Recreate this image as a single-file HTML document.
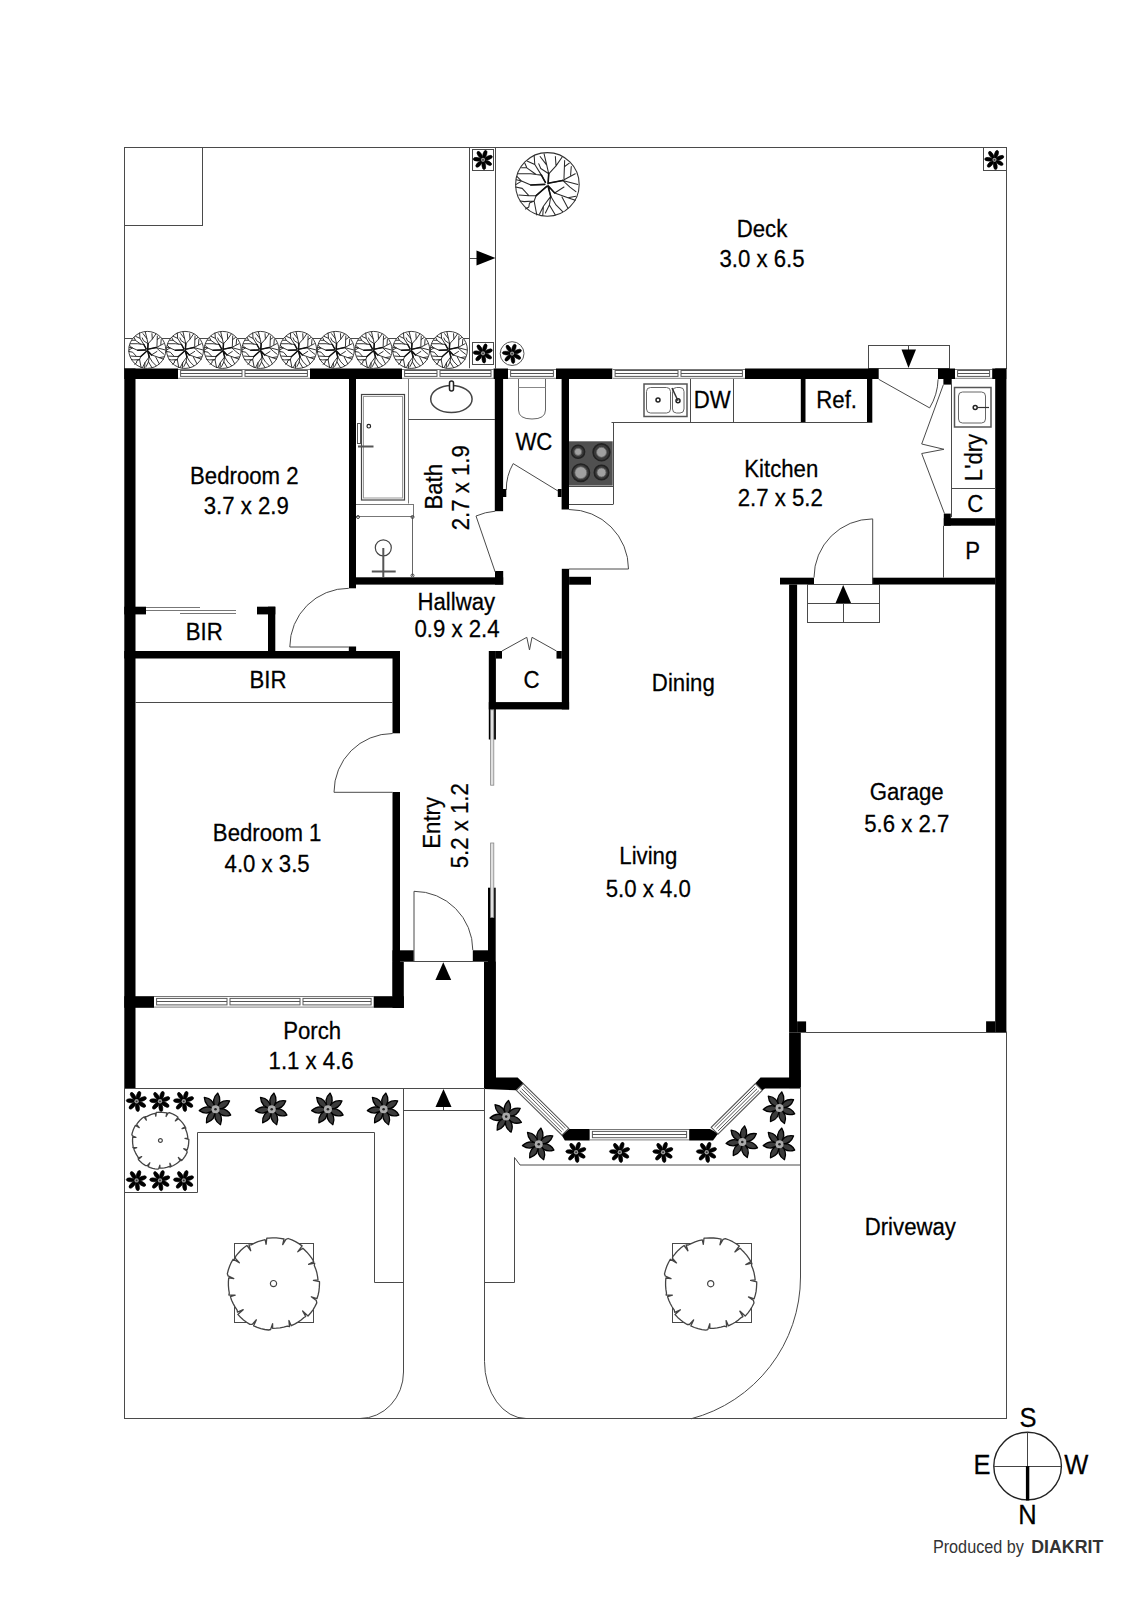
<!DOCTYPE html>
<html><head><meta charset="utf-8"><style>
html,body{margin:0;padding:0;background:#fff;}
svg{display:block;}
text{font-family:"Liberation Sans",sans-serif;}
</style></head><body>
<svg width="1131" height="1600" viewBox="0 0 1131 1600">
<rect width="1131" height="1600" fill="#fff"/>
<line x1="124" y1="147.5" x2="1006.5" y2="147.5" stroke="#4a4a4a" stroke-width="1"/>
<line x1="124.5" y1="147" x2="124.5" y2="369" stroke="#4a4a4a" stroke-width="1"/>
<line x1="1006.5" y1="147" x2="1006.5" y2="369" stroke="#4a4a4a" stroke-width="1"/>
<rect x="124.5" y="147.5" width="78.0" height="78.0" stroke="#4a4a4a" stroke-width="1" fill="none"/>
<line x1="469.5" y1="147.5" x2="469.5" y2="368.5" stroke="#4a4a4a" stroke-width="1"/>
<line x1="495.5" y1="147.5" x2="495.5" y2="368.5" stroke="#4a4a4a" stroke-width="1"/>
<line x1="124.5" y1="338.5" x2="469.5" y2="338.5" stroke="#4a4a4a" stroke-width="1"/>
<line x1="469.5" y1="258.5" x2="477" y2="258.5" stroke="#4a4a4a" stroke-width="1"/>
<path d="M476.5,250.5 L495.5,258 L476.5,265.5 Z" stroke="#4a4a4a" stroke-width="0" fill="#000"/>
<rect x="472.5" y="149.5" width="21.0" height="21.0" stroke="#4a4a4a" stroke-width="1" fill="none"/>
<rect x="472.5" y="342.5" width="21.0" height="22.0" stroke="#4a4a4a" stroke-width="1" fill="none"/>
<rect x="983.5" y="147.5" width="23.0" height="23.0" stroke="#4a4a4a" stroke-width="1" fill="none"/>
<rect x="868.5" y="345.5" width="81.0" height="23.0" stroke="#4a4a4a" stroke-width="1" fill="none"/>
<line x1="908.5" y1="345.5" x2="908.5" y2="350" stroke="#4a4a4a" stroke-width="1"/>
<path d="M901.5,349.5 L916,349.5 L908.5,368 Z" stroke="#4a4a4a" stroke-width="0" fill="#000"/>
<rect x="124.30" y="368.50" width="53.70" height="10.50" fill="#000"/>
<rect x="178" y="368.5" width="132" height="10.5" fill="#fff"/>
<line x1="178" y1="369.5" x2="310" y2="369.5" stroke="#777" stroke-width="1"/>
<line x1="178" y1="378.4" x2="310" y2="378.4" stroke="#999" stroke-width="1.2"/>
<rect x="180.6" y="370.5" width="61.4" height="5.9" fill="none" stroke="#5a5a5a" stroke-width="1"/>
<line x1="180.6" y1="373.5" x2="242.0" y2="373.5" stroke="#555" stroke-width="1"/>
<rect x="245.0" y="370.5" width="62.4" height="5.9" fill="none" stroke="#5a5a5a" stroke-width="1"/>
<line x1="245.0" y1="373.5" x2="307.4" y2="373.5" stroke="#555" stroke-width="1"/>
<rect x="310.00" y="368.50" width="92.00" height="10.50" fill="#000"/>
<rect x="402" y="368.5" width="91.60000000000002" height="10.5" fill="#fff"/>
<line x1="402" y1="369.5" x2="493.6" y2="369.5" stroke="#777" stroke-width="1"/>
<line x1="402" y1="378.4" x2="493.6" y2="378.4" stroke="#999" stroke-width="1.2"/>
<rect x="404.6" y="370.5" width="32.4" height="5.9" fill="none" stroke="#5a5a5a" stroke-width="1"/>
<line x1="404.6" y1="373.5" x2="437.0" y2="373.5" stroke="#555" stroke-width="1"/>
<rect x="440.0" y="370.5" width="51.0" height="5.9" fill="none" stroke="#5a5a5a" stroke-width="1"/>
<line x1="440.0" y1="373.5" x2="491.0" y2="373.5" stroke="#555" stroke-width="1"/>
<rect x="493.60" y="368.50" width="14.40" height="10.50" fill="#000"/>
<rect x="508" y="368.5" width="48" height="10.5" fill="#fff"/>
<line x1="508" y1="369.5" x2="556" y2="369.5" stroke="#777" stroke-width="1"/>
<line x1="508" y1="378.4" x2="556" y2="378.4" stroke="#999" stroke-width="1.2"/>
<rect x="510.6" y="370.5" width="42.8" height="5.9" fill="none" stroke="#5a5a5a" stroke-width="1"/>
<line x1="510.6" y1="373.5" x2="553.4" y2="373.5" stroke="#555" stroke-width="1"/>
<rect x="556.00" y="368.50" width="56.50" height="10.50" fill="#000"/>
<rect x="612.5" y="368.5" width="132.5" height="10.5" fill="#fff"/>
<line x1="612.5" y1="369.5" x2="745" y2="369.5" stroke="#777" stroke-width="1"/>
<line x1="612.5" y1="378.4" x2="745" y2="378.4" stroke="#999" stroke-width="1.2"/>
<rect x="615.1" y="370.5" width="62.9" height="5.9" fill="none" stroke="#5a5a5a" stroke-width="1"/>
<line x1="615.1" y1="373.5" x2="678.0" y2="373.5" stroke="#555" stroke-width="1"/>
<rect x="681.0" y="370.5" width="61.4" height="5.9" fill="none" stroke="#5a5a5a" stroke-width="1"/>
<line x1="681.0" y1="373.5" x2="742.4" y2="373.5" stroke="#555" stroke-width="1"/>
<rect x="745.00" y="368.50" width="133.70" height="10.50" fill="#000"/>
<rect x="938.00" y="368.50" width="17.00" height="10.50" fill="#000"/>
<rect x="943.40" y="379.00" width="7.60" height="5.60" fill="#000"/>
<rect x="955" y="368.5" width="37.200000000000045" height="10.5" fill="#fff"/>
<line x1="955" y1="369.5" x2="992.2" y2="369.5" stroke="#777" stroke-width="1"/>
<line x1="955" y1="378.4" x2="992.2" y2="378.4" stroke="#999" stroke-width="1.2"/>
<rect x="957.6" y="370.5" width="32.0" height="5.9" fill="none" stroke="#5a5a5a" stroke-width="1"/>
<line x1="957.6" y1="373.5" x2="989.6" y2="373.5" stroke="#555" stroke-width="1"/>
<rect x="992.20" y="368.50" width="14.10" height="10.50" fill="#000"/>
<rect x="124.30" y="368.50" width="11.20" height="719.50" fill="#000"/>
<rect x="995.20" y="368.50" width="11.20" height="664.10" fill="#000"/>
<rect x="349.00" y="379.00" width="7.00" height="209.30" fill="#000"/>
<rect x="348.80" y="646.50" width="7.30" height="4.50" fill="#000"/>
<rect x="349.00" y="577.30" width="154.20" height="7.30" fill="#000"/>
<rect x="495.00" y="571.00" width="8.20" height="13.60" fill="#000"/>
<rect x="494.80" y="379.00" width="8.30" height="132.20" fill="#000"/>
<rect x="503.00" y="489.00" width="3.30" height="8.00" fill="#000"/>
<rect x="561.60" y="379.00" width="7.40" height="130.50" fill="#000"/>
<rect x="557.80" y="489.00" width="3.80" height="8.00" fill="#000"/>
<rect x="561.80" y="568.80" width="7.30" height="140.60" fill="#000"/>
<rect x="569.10" y="576.80" width="21.90" height="7.90" fill="#000"/>
<rect x="124.30" y="606.70" width="21.70" height="7.70" fill="#000"/>
<rect x="257.00" y="606.70" width="18.30" height="7.70" fill="#000"/>
<rect x="268.00" y="606.70" width="7.30" height="46.30" fill="#000"/>
<rect x="124.30" y="651.00" width="275.70" height="7.50" fill="#000"/>
<rect x="392.50" y="651.00" width="7.50" height="82.30" fill="#000"/>
<rect x="392.50" y="792.00" width="7.50" height="204.00" fill="#000"/>
<rect x="392.50" y="950.30" width="21.30" height="11.30" fill="#000"/>
<rect x="392.50" y="961.60" width="11.30" height="46.40" fill="#000"/>
<rect x="124.30" y="996.20" width="29.70" height="11.60" fill="#000"/>
<rect x="154" y="996.2" width="219.7" height="11.599999999999909" fill="#fff"/>
<line x1="154" y1="996.5" x2="373.7" y2="996.5" stroke="#777" stroke-width="1"/>
<line x1="154" y1="1007.1999999999999" x2="373.7" y2="1007.1999999999999" stroke="#999" stroke-width="1.2"/>
<rect x="156.6" y="998.4" width="70.4" height="6.5" fill="none" stroke="#5a5a5a" stroke-width="1"/>
<line x1="156.6" y1="1001.5" x2="227.0" y2="1001.5" stroke="#555" stroke-width="1"/>
<rect x="230.0" y="998.4" width="70.0" height="6.5" fill="none" stroke="#5a5a5a" stroke-width="1"/>
<line x1="230.0" y1="1001.5" x2="300.0" y2="1001.5" stroke="#555" stroke-width="1"/>
<rect x="303.0" y="998.4" width="68.1" height="6.5" fill="none" stroke="#5a5a5a" stroke-width="1"/>
<line x1="303.0" y1="1001.5" x2="371.09999999999997" y2="1001.5" stroke="#555" stroke-width="1"/>
<rect x="373.70" y="996.20" width="30.20" height="11.60" fill="#000"/>
<rect x="472.80" y="950.30" width="15.20" height="11.30" fill="#000"/>
<rect x="488.80" y="651.00" width="7.10" height="88.50" fill="#000"/>
<rect x="488.00" y="887.70" width="7.70" height="200.30" fill="#000"/>
<rect x="484.00" y="961.60" width="11.70" height="126.40" fill="#000"/>
<rect x="496.00" y="651.00" width="6.00" height="7.60" fill="#000"/>
<rect x="556.50" y="651.00" width="5.30" height="7.60" fill="#000"/>
<rect x="488.80" y="702.10" width="80.30" height="7.30" fill="#000"/>
<rect x="800.80" y="379.00" width="4.70" height="43.80" fill="#000"/>
<rect x="867.00" y="379.00" width="5.30" height="43.80" fill="#000"/>
<rect x="943.80" y="513.60" width="7.00" height="12.10" fill="#000"/>
<rect x="943.80" y="518.20" width="51.70" height="7.50" fill="#000"/>
<rect x="780.00" y="577.70" width="34.00" height="6.80" fill="#000"/>
<rect x="872.30" y="577.70" width="123.20" height="6.80" fill="#000"/>
<rect x="789.10" y="584.50" width="8.00" height="448.10" fill="#000"/>
<rect x="789.10" y="1032.60" width="11.70" height="55.50" fill="#000"/>
<rect x="797.10" y="1021.40" width="9.00" height="11.20" fill="#000"/>
<rect x="986.10" y="1021.30" width="9.10" height="11.30" fill="#000"/>
<path d="M484.2,1070 L495.9,1070 L495.9,1077.4 L517.6,1077.4 L523.8,1083.6 L516,1090.2 L484.2,1089.1 Z" fill="#000"/>
<path d="M569.3,1128.9 L589.8,1128.9 L589.8,1140.5 L564.9,1140.5 L561.5,1134.9 Z" fill="#000"/>
<rect x="589.8" y="1129.3" width="99.40000000000009" height="11.200000000000045" fill="#fff"/>
<line x1="589.8" y1="1129.5" x2="689.2" y2="1129.5" stroke="#777" stroke-width="1"/>
<line x1="589.8" y1="1139.9" x2="689.2" y2="1139.9" stroke="#999" stroke-width="1.2"/>
<rect x="592.4" y="1131.4" width="94.2" height="6.3" fill="none" stroke="#5a5a5a" stroke-width="1"/>
<line x1="592.4" y1="1134.5" x2="686.6" y2="1134.5" stroke="#555" stroke-width="1"/>
<path d="M689.2,1128.9 L710,1128.9 L718.2,1133.6 L713,1140.5 L689.2,1140.5 Z" fill="#000"/>
<path d="M789.8,1070 L800.7,1070 L800.7,1088.4 L765,1088.4 L762.4,1090.3 L755.1,1083.6 L760.5,1077.5 L789.8,1077.5 Z" fill="#000"/>
<path d="M516.4,1090.3 L562.0,1135.2 L568.8,1128.4 L523.2,1083.5 Z" stroke="#555" stroke-width="1.1" fill="#fff"/>
<path d="M519.7,1090.5 L561.8,1131.9" stroke="#555" stroke-width="1" fill="none"/>
<path d="M521.6,1088.7 L563.6,1130.0" stroke="#555" stroke-width="1" fill="none"/>
<path d="M523.4,1086.8 L565.5,1128.2" stroke="#555" stroke-width="1" fill="none"/>
<path d="M718.0,1134.1 L762.2,1090.4 L755.4,1083.6 L711.2,1127.3 Z" stroke="#555" stroke-width="1.1" fill="#fff"/>
<path d="M718.2,1130.8 L758.9,1090.6" stroke="#555" stroke-width="1" fill="none"/>
<path d="M716.4,1128.9 L757.0,1088.8" stroke="#555" stroke-width="1" fill="none"/>
<path d="M714.5,1127.1 L755.2,1086.9" stroke="#555" stroke-width="1" fill="none"/>
<path d="M878.7,379.3 L929.6,407.9 A58.4,58.4 0 0 0 938.1,379.3" stroke="#4a4a4a" stroke-width="1" fill="none"/>
<path d="M495.2,572 L476,516 A59,59 0 0 1 495.2,511.2" stroke="#4a4a4a" stroke-width="1" fill="none"/>
<path d="M558,491 L513.2,463.6 A51,51 0 0 0 506.3,490" stroke="#4a4a4a" stroke-width="1" fill="none"/>
<path d="M569,509.5 A59.5,59.5 0 0 1 628.5,569 L569,569" stroke="#4a4a4a" stroke-width="1" fill="none"/>
<path d="M348.8,588.3 A58.7,58.7 0 0 0 289.8,647 L348.8,647" stroke="#4a4a4a" stroke-width="1" fill="none"/>
<path d="M392.6,733.5 A58.7,58.7 0 0 0 334,792.3 L392.6,792.3" stroke="#4a4a4a" stroke-width="1" fill="none"/>
<path d="M414,961.6 L414,891.3 A58.8,58.8 0 0 1 472.8,950.1" stroke="#4a4a4a" stroke-width="1" fill="none"/>
<path d="M872.7,584.5 L872.7,518.9 A58.7,58.7 0 0 0 814,577.6" stroke="#4a4a4a" stroke-width="1" fill="none"/>
<path d="M502,651 L526.8,637.3 L529.5,650 L532,637.3 L556.5,651" stroke="#4a4a4a" stroke-width="1" fill="none"/>
<path d="M943.4,384.6 L921.7,444 L944,449.3 L921.7,453.5 L944.5,513.6" stroke="#4a4a4a" stroke-width="1" fill="none"/>
<rect x="490.6" y="709.8" width="3.2" height="75.40000000000009" fill="#e0e0e0" stroke="#888" stroke-width="0.8"/>
<rect x="490.6" y="843" width="3.2" height="74.5" fill="#e0e0e0" stroke="#888" stroke-width="0.8"/>
<line x1="403.8" y1="961.5" x2="484" y2="961.5" stroke="#4a4a4a" stroke-width="1"/>
<path d="M443.3,962.2 L451.2,980.1 L435.4,980.1 Z" stroke="#4a4a4a" stroke-width="0" fill="#000"/>
<rect x="807.5" y="584.5" width="72.0" height="38.0" stroke="#4a4a4a" stroke-width="1" fill="none"/>
<line x1="807.5" y1="603.5" x2="879.5" y2="603.5" stroke="#4a4a4a" stroke-width="1"/>
<line x1="843.5" y1="603.5" x2="843.5" y2="622.5" stroke="#4a4a4a" stroke-width="1"/>
<path d="M843.2,585.1 L851.1,603.1 L835.6,603.1 Z" stroke="#4a4a4a" stroke-width="0" fill="#000"/>
<line x1="806" y1="1032.5" x2="1006" y2="1032.5" stroke="#4a4a4a" stroke-width="1"/>
<line x1="1006.5" y1="1031.5" x2="1006.5" y2="1419" stroke="#4a4a4a" stroke-width="1"/>
<line x1="611.5" y1="422.5" x2="872" y2="422.5" stroke="#4a4a4a" stroke-width="1"/>
<line x1="613.5" y1="423" x2="613.5" y2="504" stroke="#4a4a4a" stroke-width="1"/>
<line x1="569" y1="504.5" x2="613.5" y2="504.5" stroke="#4a4a4a" stroke-width="1"/>
<line x1="569" y1="486.5" x2="613.5" y2="486.5" stroke="#4a4a4a" stroke-width="1"/>
<rect x="569.00" y="441.30" width="43.70" height="44.30" fill="#505050"/>
<circle cx="578.1" cy="451.8" r="6.5" fill="#3a3a3a" stroke="#222" stroke-width="1.6"/>
<circle cx="578.1" cy="451.8" r="3.6" fill="#a0a0a0" stroke="#666" stroke-width="0.8"/>
<circle cx="601.5" cy="452.3" r="8.399999999999999" fill="#3a3a3a" stroke="#222" stroke-width="1.6"/>
<circle cx="601.5" cy="452.3" r="5" fill="#a0a0a0" stroke="#666" stroke-width="0.8"/>
<circle cx="580.8" cy="472.7" r="8.7" fill="#3a3a3a" stroke="#222" stroke-width="1.6"/>
<circle cx="580.8" cy="472.7" r="6" fill="#a0a0a0" stroke="#666" stroke-width="0.8"/>
<circle cx="601.5" cy="472.5" r="7.2" fill="#3a3a3a" stroke="#222" stroke-width="1.6"/>
<circle cx="601.5" cy="472.5" r="4.5" fill="#a0a0a0" stroke="#666" stroke-width="0.8"/>
<line x1="690.5" y1="379" x2="690.5" y2="423" stroke="#4a4a4a" stroke-width="1"/>
<line x1="733.5" y1="379" x2="733.5" y2="423" stroke="#4a4a4a" stroke-width="1"/>
<rect x="644" y="384" width="43" height="32.5" stroke="#555" stroke-width="1.5" fill="none"/>
<rect x="646.5" y="387.5" width="24" height="25.5" rx="4" fill="none" stroke="#666"/>
<rect x="672.5" y="387.5" width="11.5" height="25.5" rx="4" fill="none" stroke="#666"/>
<circle cx="658" cy="400" r="2" fill="none" stroke="#222" stroke-width="1.5"/>
<circle cx="678" cy="400.8" r="2" fill="none" stroke="#222" stroke-width="1.5"/>
<line x1="672" y1="388" x2="678" y2="400.8" stroke="#333" stroke-width="1.5"/>
<line x1="951.5" y1="379" x2="951.5" y2="517.2" stroke="#4a4a4a" stroke-width="1"/>
<line x1="951.5" y1="488.5" x2="995.5" y2="488.5" stroke="#4a4a4a" stroke-width="1"/>
<line x1="943.5" y1="525.7" x2="943.5" y2="577.7" stroke="#4a4a4a" stroke-width="1"/>
<rect x="954.5" y="387.5" width="36.5" height="39.5" stroke="#555" stroke-width="1.5" fill="none"/>
<rect x="958.5" y="392" width="27" height="31" rx="4" fill="none" stroke="#666"/>
<circle cx="975.2" cy="407.5" r="2" fill="none" stroke="#222" stroke-width="1.5"/>
<line x1="977" y1="407.5" x2="989" y2="407.5" stroke="#333" stroke-width="1.2"/>
<rect x="361.5" y="394.5" width="43" height="105.5" fill="none" stroke="#444" stroke-width="1.2"/>
<rect x="363.5" y="396.5" width="39" height="101.5" fill="none" stroke="#999" stroke-width="1"/>
<rect x="357.5" y="423.5" width="3" height="20" fill="none" stroke="#555"/>
<line x1="358" y1="446.5" x2="373.5" y2="446.5" stroke="#555" stroke-width="2"/>
<circle cx="368.8" cy="426.2" r="1.8" fill="none" stroke="#222" stroke-width="1.2"/>
<line x1="408.5" y1="379" x2="408.5" y2="503.5" stroke="#777" stroke-width="1"/>
<line x1="408.5" y1="419.5" x2="495" y2="419.5" stroke="#4a4a4a" stroke-width="1"/>
<ellipse cx="451.4" cy="399" rx="20.7" ry="13.5" fill="none" stroke="#444" stroke-width="1.5"/>
<rect x="449.5" y="381" width="4" height="10" rx="2" fill="#fff" stroke="#222" stroke-width="1.5"/>
<line x1="356" y1="504.5" x2="413.2" y2="504.5" stroke="#777" stroke-width="1"/>
<line x1="356" y1="516.5" x2="413.2" y2="516.5" stroke="#777" stroke-width="1"/>
<line x1="413.5" y1="504" x2="413.5" y2="517" stroke="#777" stroke-width="1"/>
<line x1="412.5" y1="517" x2="412.5" y2="576" stroke="#666" stroke-width="1"/>
<circle cx="358" cy="517" r="1.5" fill="none" stroke="#444"/>
<circle cx="412.5" cy="517" r="1.5" fill="none" stroke="#444"/>
<circle cx="412.5" cy="575.5" r="1.5" fill="none" stroke="#444"/>
<circle cx="383.3" cy="547.8" r="8" fill="none" stroke="#444" stroke-width="1.2"/>
<line x1="383.3" y1="548" x2="383.3" y2="577" stroke="#555" stroke-width="2"/>
<line x1="371.8" y1="571.5" x2="395.7" y2="571.5" stroke="#555" stroke-width="2"/>
<path d="M518.5,379 L518.5,410 Q518.5,419 532,419 Q545.5,419 545.5,410 L545.5,379" stroke="#666" stroke-width="1" fill="none"/>
<line x1="518.5" y1="387.5" x2="545.5" y2="387.5" stroke="#888" stroke-width="1"/>
<line x1="146" y1="607.5" x2="200" y2="607.5" stroke="#777" stroke-width="1"/>
<line x1="146" y1="610.5" x2="200" y2="610.5" stroke="#777" stroke-width="1"/>
<line x1="180" y1="610.5" x2="236" y2="610.5" stroke="#777" stroke-width="1"/>
<line x1="180" y1="613.5" x2="236" y2="613.5" stroke="#777" stroke-width="1"/>
<line x1="135.5" y1="702.5" x2="392.5" y2="702.5" stroke="#4a4a4a" stroke-width="1"/>
<line x1="124" y1="1088.5" x2="484.5" y2="1088.5" stroke="#4a4a4a" stroke-width="1"/>
<line x1="124.5" y1="1088" x2="124.5" y2="1419" stroke="#4a4a4a" stroke-width="1"/>
<line x1="124" y1="1418.5" x2="1006.5" y2="1418.5" stroke="#4a4a4a" stroke-width="1"/>
<path d="M403.5,1088 L403.5,1372 A43.5,46.5 0 0 1 360,1418.5" stroke="#4a4a4a" stroke-width="1" fill="none"/>
<line x1="403.9" y1="1110.5" x2="484.5" y2="1110.5" stroke="#4a4a4a" stroke-width="1"/>
<path d="M443.5,1089 L451.5,1107 L435.5,1107 Z" stroke="#4a4a4a" stroke-width="0" fill="#000"/>
<line x1="443.5" y1="1107" x2="443.5" y2="1110.5" stroke="#4a4a4a" stroke-width="1"/>
<path d="M484.5,1088 L484.5,1361.5 A41.5,57 0 0 0 526,1418.5" stroke="#4a4a4a" stroke-width="1" fill="none"/>
<path d="M124.5,1192.5 L197.5,1192.5 L197.5,1132.5 L374.5,1132.5 L374.5,1282.5 L403.5,1282.5" stroke="#4a4a4a" stroke-width="1" fill="none"/>
<path d="M484.5,1282.5 L514.5,1282.5 L514.5,1157.5 L520,1165 L800.5,1165" stroke="#4a4a4a" stroke-width="1" fill="none"/>
<path d="M800.5,1087 L800.5,1277 A146.5,146.5 0 0 1 691,1418.8" stroke="#4a4a4a" stroke-width="1" fill="none"/>
<rect x="234.5" y="1243.5" width="79.0" height="79.0" stroke="#4a4a4a" stroke-width="1" fill="none"/>
<rect x="672.5" y="1243.5" width="79.0" height="79.0" stroke="#4a4a4a" stroke-width="1" fill="none"/>
<g transform="translate(147.3 349.9) rotate(0) scale(1)"><circle r="18.5" fill="#fff" stroke="#333" stroke-width="0.95"/><path d="M0.39,-0.39 L0.77,-6.17 L-0.39,-11.19 L-1.93,-17.75 M0.77,-6.17 L5.02,-10.80 L4.63,-16.20 M-0.39,-11.19 L-4.24,-16.20 M5.02,-10.80 L8.49,-15.82 M0.77,-6.17 L-3.86,-9.26 L-5.02,-11.96 M-1.16,-1.16 L-3.47,-5.40 L-7.33,-11.57 L-7.72,-16.97 M-3.47,-5.40 L-6.56,-5.79 L-11.96,-9.64 L-13.12,-12.35 M-7.33,-11.57 L-11.57,-13.50 M-6.56,-5.79 L-9.64,-6.17 L-16.97,-6.17 M-11.96,-9.64 L-15.05,-9.64 M-1.54,0.00 L-9.64,0.39 L-15.05,-1.93 L-17.75,-4.63 M-15.05,-1.93 L-18.13,0.00 M-15.05,-1.93 L-18.13,-2.70 M-0.39,1.16 L-6.56,6.56 L-10.80,6.56 L-14.66,2.31 L-18.52,1.54 M-10.80,6.56 L-16.59,6.17 M-6.56,6.56 L-7.72,9.64 L-13.50,10.03 L-15.82,9.64 M-7.72,9.64 L-10.42,10.80 L-10.80,13.12 L-12.73,14.27 M-7.72,9.64 L-6.17,17.75 M0.39,1.16 L1.93,6.94 L-2.31,12.73 L-4.63,17.36 M1.93,6.94 L1.16,11.96 L-1.16,16.59 M1.16,11.96 L4.63,17.75 M1.93,6.94 L5.02,11.96 L8.87,15.82 M-2.31,12.73 L-2.70,18.13 M0.39,0.77 L4.24,5.02 L11.96,7.72 L16.20,9.26 M4.24,5.02 L9.64,1.54 M8.49,7.33 L11.96,13.89 M11.96,7.72 L16.59,6.94 M1.16,-0.77 L8.87,-2.31 L17.75,0.00 M8.87,-2.31 L13.12,1.54 L16.59,4.24 M8.87,-2.31 L16.20,-6.17 M9.64,-3.47 L10.03,-13.89 M13.50,-5.40 L13.89,-10.42 M10.03,-10.42 L12.73,-12.35" fill="none" stroke="#2a2a2a" stroke-width="0.95" stroke-linejoin="round" stroke-linecap="round"/><path d="M0.39,-0.39 L0.77,-6.17 M-1.16,-1.16 L-3.47,-5.40 M-1.54,0.00 L-9.64,0.39 M-0.39,1.16 L-6.56,6.56 M0.39,1.16 L1.93,6.94 M0.39,0.77 L4.24,5.02 M1.16,-0.77 L8.87,-2.31" fill="none" stroke="#111" stroke-width="1.5" stroke-linecap="round"/></g>
<g transform="translate(185.0 349.9) rotate(0) scale(1)"><circle r="18.5" fill="#fff" stroke="#333" stroke-width="0.95"/><path d="M0.39,-0.39 L0.77,-6.17 L-0.39,-11.19 L-1.93,-17.75 M0.77,-6.17 L5.02,-10.80 L4.63,-16.20 M-0.39,-11.19 L-4.24,-16.20 M5.02,-10.80 L8.49,-15.82 M0.77,-6.17 L-3.86,-9.26 L-5.02,-11.96 M-1.16,-1.16 L-3.47,-5.40 L-7.33,-11.57 L-7.72,-16.97 M-3.47,-5.40 L-6.56,-5.79 L-11.96,-9.64 L-13.12,-12.35 M-7.33,-11.57 L-11.57,-13.50 M-6.56,-5.79 L-9.64,-6.17 L-16.97,-6.17 M-11.96,-9.64 L-15.05,-9.64 M-1.54,0.00 L-9.64,0.39 L-15.05,-1.93 L-17.75,-4.63 M-15.05,-1.93 L-18.13,0.00 M-15.05,-1.93 L-18.13,-2.70 M-0.39,1.16 L-6.56,6.56 L-10.80,6.56 L-14.66,2.31 L-18.52,1.54 M-10.80,6.56 L-16.59,6.17 M-6.56,6.56 L-7.72,9.64 L-13.50,10.03 L-15.82,9.64 M-7.72,9.64 L-10.42,10.80 L-10.80,13.12 L-12.73,14.27 M-7.72,9.64 L-6.17,17.75 M0.39,1.16 L1.93,6.94 L-2.31,12.73 L-4.63,17.36 M1.93,6.94 L1.16,11.96 L-1.16,16.59 M1.16,11.96 L4.63,17.75 M1.93,6.94 L5.02,11.96 L8.87,15.82 M-2.31,12.73 L-2.70,18.13 M0.39,0.77 L4.24,5.02 L11.96,7.72 L16.20,9.26 M4.24,5.02 L9.64,1.54 M8.49,7.33 L11.96,13.89 M11.96,7.72 L16.59,6.94 M1.16,-0.77 L8.87,-2.31 L17.75,0.00 M8.87,-2.31 L13.12,1.54 L16.59,4.24 M8.87,-2.31 L16.20,-6.17 M9.64,-3.47 L10.03,-13.89 M13.50,-5.40 L13.89,-10.42 M10.03,-10.42 L12.73,-12.35" fill="none" stroke="#2a2a2a" stroke-width="0.95" stroke-linejoin="round" stroke-linecap="round"/><path d="M0.39,-0.39 L0.77,-6.17 M-1.16,-1.16 L-3.47,-5.40 M-1.54,0.00 L-9.64,0.39 M-0.39,1.16 L-6.56,6.56 M0.39,1.16 L1.93,6.94 M0.39,0.77 L4.24,5.02 M1.16,-0.77 L8.87,-2.31" fill="none" stroke="#111" stroke-width="1.5" stroke-linecap="round"/></g>
<g transform="translate(222.70000000000002 349.9) rotate(0) scale(1)"><circle r="18.5" fill="#fff" stroke="#333" stroke-width="0.95"/><path d="M0.39,-0.39 L0.77,-6.17 L-0.39,-11.19 L-1.93,-17.75 M0.77,-6.17 L5.02,-10.80 L4.63,-16.20 M-0.39,-11.19 L-4.24,-16.20 M5.02,-10.80 L8.49,-15.82 M0.77,-6.17 L-3.86,-9.26 L-5.02,-11.96 M-1.16,-1.16 L-3.47,-5.40 L-7.33,-11.57 L-7.72,-16.97 M-3.47,-5.40 L-6.56,-5.79 L-11.96,-9.64 L-13.12,-12.35 M-7.33,-11.57 L-11.57,-13.50 M-6.56,-5.79 L-9.64,-6.17 L-16.97,-6.17 M-11.96,-9.64 L-15.05,-9.64 M-1.54,0.00 L-9.64,0.39 L-15.05,-1.93 L-17.75,-4.63 M-15.05,-1.93 L-18.13,0.00 M-15.05,-1.93 L-18.13,-2.70 M-0.39,1.16 L-6.56,6.56 L-10.80,6.56 L-14.66,2.31 L-18.52,1.54 M-10.80,6.56 L-16.59,6.17 M-6.56,6.56 L-7.72,9.64 L-13.50,10.03 L-15.82,9.64 M-7.72,9.64 L-10.42,10.80 L-10.80,13.12 L-12.73,14.27 M-7.72,9.64 L-6.17,17.75 M0.39,1.16 L1.93,6.94 L-2.31,12.73 L-4.63,17.36 M1.93,6.94 L1.16,11.96 L-1.16,16.59 M1.16,11.96 L4.63,17.75 M1.93,6.94 L5.02,11.96 L8.87,15.82 M-2.31,12.73 L-2.70,18.13 M0.39,0.77 L4.24,5.02 L11.96,7.72 L16.20,9.26 M4.24,5.02 L9.64,1.54 M8.49,7.33 L11.96,13.89 M11.96,7.72 L16.59,6.94 M1.16,-0.77 L8.87,-2.31 L17.75,0.00 M8.87,-2.31 L13.12,1.54 L16.59,4.24 M8.87,-2.31 L16.20,-6.17 M9.64,-3.47 L10.03,-13.89 M13.50,-5.40 L13.89,-10.42 M10.03,-10.42 L12.73,-12.35" fill="none" stroke="#2a2a2a" stroke-width="0.95" stroke-linejoin="round" stroke-linecap="round"/><path d="M0.39,-0.39 L0.77,-6.17 M-1.16,-1.16 L-3.47,-5.40 M-1.54,0.00 L-9.64,0.39 M-0.39,1.16 L-6.56,6.56 M0.39,1.16 L1.93,6.94 M0.39,0.77 L4.24,5.02 M1.16,-0.77 L8.87,-2.31" fill="none" stroke="#111" stroke-width="1.5" stroke-linecap="round"/></g>
<g transform="translate(260.40000000000003 349.9) rotate(0) scale(1)"><circle r="18.5" fill="#fff" stroke="#333" stroke-width="0.95"/><path d="M0.39,-0.39 L0.77,-6.17 L-0.39,-11.19 L-1.93,-17.75 M0.77,-6.17 L5.02,-10.80 L4.63,-16.20 M-0.39,-11.19 L-4.24,-16.20 M5.02,-10.80 L8.49,-15.82 M0.77,-6.17 L-3.86,-9.26 L-5.02,-11.96 M-1.16,-1.16 L-3.47,-5.40 L-7.33,-11.57 L-7.72,-16.97 M-3.47,-5.40 L-6.56,-5.79 L-11.96,-9.64 L-13.12,-12.35 M-7.33,-11.57 L-11.57,-13.50 M-6.56,-5.79 L-9.64,-6.17 L-16.97,-6.17 M-11.96,-9.64 L-15.05,-9.64 M-1.54,0.00 L-9.64,0.39 L-15.05,-1.93 L-17.75,-4.63 M-15.05,-1.93 L-18.13,0.00 M-15.05,-1.93 L-18.13,-2.70 M-0.39,1.16 L-6.56,6.56 L-10.80,6.56 L-14.66,2.31 L-18.52,1.54 M-10.80,6.56 L-16.59,6.17 M-6.56,6.56 L-7.72,9.64 L-13.50,10.03 L-15.82,9.64 M-7.72,9.64 L-10.42,10.80 L-10.80,13.12 L-12.73,14.27 M-7.72,9.64 L-6.17,17.75 M0.39,1.16 L1.93,6.94 L-2.31,12.73 L-4.63,17.36 M1.93,6.94 L1.16,11.96 L-1.16,16.59 M1.16,11.96 L4.63,17.75 M1.93,6.94 L5.02,11.96 L8.87,15.82 M-2.31,12.73 L-2.70,18.13 M0.39,0.77 L4.24,5.02 L11.96,7.72 L16.20,9.26 M4.24,5.02 L9.64,1.54 M8.49,7.33 L11.96,13.89 M11.96,7.72 L16.59,6.94 M1.16,-0.77 L8.87,-2.31 L17.75,0.00 M8.87,-2.31 L13.12,1.54 L16.59,4.24 M8.87,-2.31 L16.20,-6.17 M9.64,-3.47 L10.03,-13.89 M13.50,-5.40 L13.89,-10.42 M10.03,-10.42 L12.73,-12.35" fill="none" stroke="#2a2a2a" stroke-width="0.95" stroke-linejoin="round" stroke-linecap="round"/><path d="M0.39,-0.39 L0.77,-6.17 M-1.16,-1.16 L-3.47,-5.40 M-1.54,0.00 L-9.64,0.39 M-0.39,1.16 L-6.56,6.56 M0.39,1.16 L1.93,6.94 M0.39,0.77 L4.24,5.02 M1.16,-0.77 L8.87,-2.31" fill="none" stroke="#111" stroke-width="1.5" stroke-linecap="round"/></g>
<g transform="translate(298.1 349.9) rotate(0) scale(1)"><circle r="18.5" fill="#fff" stroke="#333" stroke-width="0.95"/><path d="M0.39,-0.39 L0.77,-6.17 L-0.39,-11.19 L-1.93,-17.75 M0.77,-6.17 L5.02,-10.80 L4.63,-16.20 M-0.39,-11.19 L-4.24,-16.20 M5.02,-10.80 L8.49,-15.82 M0.77,-6.17 L-3.86,-9.26 L-5.02,-11.96 M-1.16,-1.16 L-3.47,-5.40 L-7.33,-11.57 L-7.72,-16.97 M-3.47,-5.40 L-6.56,-5.79 L-11.96,-9.64 L-13.12,-12.35 M-7.33,-11.57 L-11.57,-13.50 M-6.56,-5.79 L-9.64,-6.17 L-16.97,-6.17 M-11.96,-9.64 L-15.05,-9.64 M-1.54,0.00 L-9.64,0.39 L-15.05,-1.93 L-17.75,-4.63 M-15.05,-1.93 L-18.13,0.00 M-15.05,-1.93 L-18.13,-2.70 M-0.39,1.16 L-6.56,6.56 L-10.80,6.56 L-14.66,2.31 L-18.52,1.54 M-10.80,6.56 L-16.59,6.17 M-6.56,6.56 L-7.72,9.64 L-13.50,10.03 L-15.82,9.64 M-7.72,9.64 L-10.42,10.80 L-10.80,13.12 L-12.73,14.27 M-7.72,9.64 L-6.17,17.75 M0.39,1.16 L1.93,6.94 L-2.31,12.73 L-4.63,17.36 M1.93,6.94 L1.16,11.96 L-1.16,16.59 M1.16,11.96 L4.63,17.75 M1.93,6.94 L5.02,11.96 L8.87,15.82 M-2.31,12.73 L-2.70,18.13 M0.39,0.77 L4.24,5.02 L11.96,7.72 L16.20,9.26 M4.24,5.02 L9.64,1.54 M8.49,7.33 L11.96,13.89 M11.96,7.72 L16.59,6.94 M1.16,-0.77 L8.87,-2.31 L17.75,0.00 M8.87,-2.31 L13.12,1.54 L16.59,4.24 M8.87,-2.31 L16.20,-6.17 M9.64,-3.47 L10.03,-13.89 M13.50,-5.40 L13.89,-10.42 M10.03,-10.42 L12.73,-12.35" fill="none" stroke="#2a2a2a" stroke-width="0.95" stroke-linejoin="round" stroke-linecap="round"/><path d="M0.39,-0.39 L0.77,-6.17 M-1.16,-1.16 L-3.47,-5.40 M-1.54,0.00 L-9.64,0.39 M-0.39,1.16 L-6.56,6.56 M0.39,1.16 L1.93,6.94 M0.39,0.77 L4.24,5.02 M1.16,-0.77 L8.87,-2.31" fill="none" stroke="#111" stroke-width="1.5" stroke-linecap="round"/></g>
<g transform="translate(335.8 349.9) rotate(0) scale(1)"><circle r="18.5" fill="#fff" stroke="#333" stroke-width="0.95"/><path d="M0.39,-0.39 L0.77,-6.17 L-0.39,-11.19 L-1.93,-17.75 M0.77,-6.17 L5.02,-10.80 L4.63,-16.20 M-0.39,-11.19 L-4.24,-16.20 M5.02,-10.80 L8.49,-15.82 M0.77,-6.17 L-3.86,-9.26 L-5.02,-11.96 M-1.16,-1.16 L-3.47,-5.40 L-7.33,-11.57 L-7.72,-16.97 M-3.47,-5.40 L-6.56,-5.79 L-11.96,-9.64 L-13.12,-12.35 M-7.33,-11.57 L-11.57,-13.50 M-6.56,-5.79 L-9.64,-6.17 L-16.97,-6.17 M-11.96,-9.64 L-15.05,-9.64 M-1.54,0.00 L-9.64,0.39 L-15.05,-1.93 L-17.75,-4.63 M-15.05,-1.93 L-18.13,0.00 M-15.05,-1.93 L-18.13,-2.70 M-0.39,1.16 L-6.56,6.56 L-10.80,6.56 L-14.66,2.31 L-18.52,1.54 M-10.80,6.56 L-16.59,6.17 M-6.56,6.56 L-7.72,9.64 L-13.50,10.03 L-15.82,9.64 M-7.72,9.64 L-10.42,10.80 L-10.80,13.12 L-12.73,14.27 M-7.72,9.64 L-6.17,17.75 M0.39,1.16 L1.93,6.94 L-2.31,12.73 L-4.63,17.36 M1.93,6.94 L1.16,11.96 L-1.16,16.59 M1.16,11.96 L4.63,17.75 M1.93,6.94 L5.02,11.96 L8.87,15.82 M-2.31,12.73 L-2.70,18.13 M0.39,0.77 L4.24,5.02 L11.96,7.72 L16.20,9.26 M4.24,5.02 L9.64,1.54 M8.49,7.33 L11.96,13.89 M11.96,7.72 L16.59,6.94 M1.16,-0.77 L8.87,-2.31 L17.75,0.00 M8.87,-2.31 L13.12,1.54 L16.59,4.24 M8.87,-2.31 L16.20,-6.17 M9.64,-3.47 L10.03,-13.89 M13.50,-5.40 L13.89,-10.42 M10.03,-10.42 L12.73,-12.35" fill="none" stroke="#2a2a2a" stroke-width="0.95" stroke-linejoin="round" stroke-linecap="round"/><path d="M0.39,-0.39 L0.77,-6.17 M-1.16,-1.16 L-3.47,-5.40 M-1.54,0.00 L-9.64,0.39 M-0.39,1.16 L-6.56,6.56 M0.39,1.16 L1.93,6.94 M0.39,0.77 L4.24,5.02 M1.16,-0.77 L8.87,-2.31" fill="none" stroke="#111" stroke-width="1.5" stroke-linecap="round"/></g>
<g transform="translate(373.5 349.9) rotate(0) scale(1)"><circle r="18.5" fill="#fff" stroke="#333" stroke-width="0.95"/><path d="M0.39,-0.39 L0.77,-6.17 L-0.39,-11.19 L-1.93,-17.75 M0.77,-6.17 L5.02,-10.80 L4.63,-16.20 M-0.39,-11.19 L-4.24,-16.20 M5.02,-10.80 L8.49,-15.82 M0.77,-6.17 L-3.86,-9.26 L-5.02,-11.96 M-1.16,-1.16 L-3.47,-5.40 L-7.33,-11.57 L-7.72,-16.97 M-3.47,-5.40 L-6.56,-5.79 L-11.96,-9.64 L-13.12,-12.35 M-7.33,-11.57 L-11.57,-13.50 M-6.56,-5.79 L-9.64,-6.17 L-16.97,-6.17 M-11.96,-9.64 L-15.05,-9.64 M-1.54,0.00 L-9.64,0.39 L-15.05,-1.93 L-17.75,-4.63 M-15.05,-1.93 L-18.13,0.00 M-15.05,-1.93 L-18.13,-2.70 M-0.39,1.16 L-6.56,6.56 L-10.80,6.56 L-14.66,2.31 L-18.52,1.54 M-10.80,6.56 L-16.59,6.17 M-6.56,6.56 L-7.72,9.64 L-13.50,10.03 L-15.82,9.64 M-7.72,9.64 L-10.42,10.80 L-10.80,13.12 L-12.73,14.27 M-7.72,9.64 L-6.17,17.75 M0.39,1.16 L1.93,6.94 L-2.31,12.73 L-4.63,17.36 M1.93,6.94 L1.16,11.96 L-1.16,16.59 M1.16,11.96 L4.63,17.75 M1.93,6.94 L5.02,11.96 L8.87,15.82 M-2.31,12.73 L-2.70,18.13 M0.39,0.77 L4.24,5.02 L11.96,7.72 L16.20,9.26 M4.24,5.02 L9.64,1.54 M8.49,7.33 L11.96,13.89 M11.96,7.72 L16.59,6.94 M1.16,-0.77 L8.87,-2.31 L17.75,0.00 M8.87,-2.31 L13.12,1.54 L16.59,4.24 M8.87,-2.31 L16.20,-6.17 M9.64,-3.47 L10.03,-13.89 M13.50,-5.40 L13.89,-10.42 M10.03,-10.42 L12.73,-12.35" fill="none" stroke="#2a2a2a" stroke-width="0.95" stroke-linejoin="round" stroke-linecap="round"/><path d="M0.39,-0.39 L0.77,-6.17 M-1.16,-1.16 L-3.47,-5.40 M-1.54,0.00 L-9.64,0.39 M-0.39,1.16 L-6.56,6.56 M0.39,1.16 L1.93,6.94 M0.39,0.77 L4.24,5.02 M1.16,-0.77 L8.87,-2.31" fill="none" stroke="#111" stroke-width="1.5" stroke-linecap="round"/></g>
<g transform="translate(411.20000000000005 349.9) rotate(0) scale(1)"><circle r="18.5" fill="#fff" stroke="#333" stroke-width="0.95"/><path d="M0.39,-0.39 L0.77,-6.17 L-0.39,-11.19 L-1.93,-17.75 M0.77,-6.17 L5.02,-10.80 L4.63,-16.20 M-0.39,-11.19 L-4.24,-16.20 M5.02,-10.80 L8.49,-15.82 M0.77,-6.17 L-3.86,-9.26 L-5.02,-11.96 M-1.16,-1.16 L-3.47,-5.40 L-7.33,-11.57 L-7.72,-16.97 M-3.47,-5.40 L-6.56,-5.79 L-11.96,-9.64 L-13.12,-12.35 M-7.33,-11.57 L-11.57,-13.50 M-6.56,-5.79 L-9.64,-6.17 L-16.97,-6.17 M-11.96,-9.64 L-15.05,-9.64 M-1.54,0.00 L-9.64,0.39 L-15.05,-1.93 L-17.75,-4.63 M-15.05,-1.93 L-18.13,0.00 M-15.05,-1.93 L-18.13,-2.70 M-0.39,1.16 L-6.56,6.56 L-10.80,6.56 L-14.66,2.31 L-18.52,1.54 M-10.80,6.56 L-16.59,6.17 M-6.56,6.56 L-7.72,9.64 L-13.50,10.03 L-15.82,9.64 M-7.72,9.64 L-10.42,10.80 L-10.80,13.12 L-12.73,14.27 M-7.72,9.64 L-6.17,17.75 M0.39,1.16 L1.93,6.94 L-2.31,12.73 L-4.63,17.36 M1.93,6.94 L1.16,11.96 L-1.16,16.59 M1.16,11.96 L4.63,17.75 M1.93,6.94 L5.02,11.96 L8.87,15.82 M-2.31,12.73 L-2.70,18.13 M0.39,0.77 L4.24,5.02 L11.96,7.72 L16.20,9.26 M4.24,5.02 L9.64,1.54 M8.49,7.33 L11.96,13.89 M11.96,7.72 L16.59,6.94 M1.16,-0.77 L8.87,-2.31 L17.75,0.00 M8.87,-2.31 L13.12,1.54 L16.59,4.24 M8.87,-2.31 L16.20,-6.17 M9.64,-3.47 L10.03,-13.89 M13.50,-5.40 L13.89,-10.42 M10.03,-10.42 L12.73,-12.35" fill="none" stroke="#2a2a2a" stroke-width="0.95" stroke-linejoin="round" stroke-linecap="round"/><path d="M0.39,-0.39 L0.77,-6.17 M-1.16,-1.16 L-3.47,-5.40 M-1.54,0.00 L-9.64,0.39 M-0.39,1.16 L-6.56,6.56 M0.39,1.16 L1.93,6.94 M0.39,0.77 L4.24,5.02 M1.16,-0.77 L8.87,-2.31" fill="none" stroke="#111" stroke-width="1.5" stroke-linecap="round"/></g>
<g transform="translate(448.90000000000003 349.9) rotate(0) scale(1)"><circle r="18.5" fill="#fff" stroke="#333" stroke-width="0.95"/><path d="M0.39,-0.39 L0.77,-6.17 L-0.39,-11.19 L-1.93,-17.75 M0.77,-6.17 L5.02,-10.80 L4.63,-16.20 M-0.39,-11.19 L-4.24,-16.20 M5.02,-10.80 L8.49,-15.82 M0.77,-6.17 L-3.86,-9.26 L-5.02,-11.96 M-1.16,-1.16 L-3.47,-5.40 L-7.33,-11.57 L-7.72,-16.97 M-3.47,-5.40 L-6.56,-5.79 L-11.96,-9.64 L-13.12,-12.35 M-7.33,-11.57 L-11.57,-13.50 M-6.56,-5.79 L-9.64,-6.17 L-16.97,-6.17 M-11.96,-9.64 L-15.05,-9.64 M-1.54,0.00 L-9.64,0.39 L-15.05,-1.93 L-17.75,-4.63 M-15.05,-1.93 L-18.13,0.00 M-15.05,-1.93 L-18.13,-2.70 M-0.39,1.16 L-6.56,6.56 L-10.80,6.56 L-14.66,2.31 L-18.52,1.54 M-10.80,6.56 L-16.59,6.17 M-6.56,6.56 L-7.72,9.64 L-13.50,10.03 L-15.82,9.64 M-7.72,9.64 L-10.42,10.80 L-10.80,13.12 L-12.73,14.27 M-7.72,9.64 L-6.17,17.75 M0.39,1.16 L1.93,6.94 L-2.31,12.73 L-4.63,17.36 M1.93,6.94 L1.16,11.96 L-1.16,16.59 M1.16,11.96 L4.63,17.75 M1.93,6.94 L5.02,11.96 L8.87,15.82 M-2.31,12.73 L-2.70,18.13 M0.39,0.77 L4.24,5.02 L11.96,7.72 L16.20,9.26 M4.24,5.02 L9.64,1.54 M8.49,7.33 L11.96,13.89 M11.96,7.72 L16.59,6.94 M1.16,-0.77 L8.87,-2.31 L17.75,0.00 M8.87,-2.31 L13.12,1.54 L16.59,4.24 M8.87,-2.31 L16.20,-6.17 M9.64,-3.47 L10.03,-13.89 M13.50,-5.40 L13.89,-10.42 M10.03,-10.42 L12.73,-12.35" fill="none" stroke="#2a2a2a" stroke-width="0.95" stroke-linejoin="round" stroke-linecap="round"/><path d="M0.39,-0.39 L0.77,-6.17 M-1.16,-1.16 L-3.47,-5.40 M-1.54,0.00 L-9.64,0.39 M-0.39,1.16 L-6.56,6.56 M0.39,1.16 L1.93,6.94 M0.39,0.77 L4.24,5.02 M1.16,-0.77 L8.87,-2.31" fill="none" stroke="#111" stroke-width="1.5" stroke-linecap="round"/></g>
<g transform="translate(547.4 184.4) rotate(0) scale(1)"><circle r="31.8" fill="#fff" stroke="#333" stroke-width="1.05"/><path d="M0.66,-0.66 L1.33,-10.61 L-0.66,-19.23 L-3.32,-30.50 M1.33,-10.61 L8.62,-18.57 L7.96,-27.85 M-0.66,-19.23 L-7.29,-27.85 M8.62,-18.57 L14.59,-27.19 M1.33,-10.61 L-6.63,-15.92 L-8.62,-20.56 M-1.99,-1.99 L-5.97,-9.28 L-12.60,-19.89 L-13.26,-29.18 M-5.97,-9.28 L-11.27,-9.95 L-20.56,-16.58 L-22.55,-21.22 M-12.60,-19.89 L-19.89,-23.21 M-11.27,-9.95 L-16.58,-10.61 L-29.18,-10.61 M-20.56,-16.58 L-25.86,-16.58 M-2.65,0.00 L-16.58,0.66 L-25.86,-3.32 L-30.50,-7.96 M-25.86,-3.32 L-31.17,0.00 M-25.86,-3.32 L-31.17,-4.64 M-0.66,1.99 L-11.27,11.27 L-18.57,11.27 L-25.20,3.98 L-31.83,2.65 M-18.57,11.27 L-28.51,10.61 M-11.27,11.27 L-13.26,16.58 L-23.21,17.24 L-27.19,16.58 M-13.26,16.58 L-17.90,18.57 L-18.57,22.55 L-21.88,24.54 M-13.26,16.58 L-10.61,30.50 M0.66,1.99 L3.32,11.94 L-3.98,21.88 L-7.96,29.84 M3.32,11.94 L1.99,20.56 L-1.99,28.51 M1.99,20.56 L7.96,30.50 M3.32,11.94 L8.62,20.56 L15.25,27.19 M-3.98,21.88 L-4.64,31.17 M0.66,1.33 L7.29,8.62 L20.56,13.26 L27.85,15.92 M7.29,8.62 L16.58,2.65 M14.59,12.60 L20.56,23.87 M20.56,13.26 L28.51,11.94 M1.99,-1.33 L15.25,-3.98 L30.50,0.00 M15.25,-3.98 L22.55,2.65 L28.51,7.29 M15.25,-3.98 L27.85,-10.61 M16.58,-5.97 L17.24,-23.87 M23.21,-9.28 L23.87,-17.90 M17.24,-17.90 L21.88,-21.22" fill="none" stroke="#2a2a2a" stroke-width="1.05" stroke-linejoin="round" stroke-linecap="round"/><path d="M0.66,-0.66 L1.33,-10.61 M-1.99,-1.99 L-5.97,-9.28 M-2.65,0.00 L-16.58,0.66 M-0.66,1.99 L-11.27,11.27 M0.66,1.99 L3.32,11.94 M0.66,1.33 L7.29,8.62 M1.99,-1.33 L15.25,-3.98" fill="none" stroke="#111" stroke-width="1.6" stroke-linecap="round"/></g>
<circle cx="512.1" cy="353.6" r="11.9" fill="#fff" stroke="#555" stroke-width="1"/>
<g transform="translate(483 159.8) rotate(0) scale(0.95)"><g fill="#000" stroke="#000" stroke-width="0.6"><ellipse cx="6.30" cy="0" rx="4.10" ry="1.95" transform="rotate(-72.0)"/><ellipse cx="6.30" cy="0" rx="4.10" ry="1.95" transform="rotate(-20.6)"/><ellipse cx="6.30" cy="0" rx="4.10" ry="1.95" transform="rotate(30.9)"/><ellipse cx="6.30" cy="0" rx="4.10" ry="1.95" transform="rotate(82.3)"/><ellipse cx="6.30" cy="0" rx="4.10" ry="1.95" transform="rotate(133.7)"/><ellipse cx="6.30" cy="0" rx="4.10" ry="1.95" transform="rotate(185.1)"/><ellipse cx="6.30" cy="0" rx="4.10" ry="1.95" transform="rotate(236.6)"/></g><circle r="3.2" fill="#000"/><circle r="2.2" fill="#999"/><circle r="0.9" fill="#333"/></g>
<g transform="translate(483 353.3) rotate(0) scale(0.95)"><g fill="#000" stroke="#000" stroke-width="0.6"><ellipse cx="6.30" cy="0" rx="4.10" ry="1.95" transform="rotate(-72.0)"/><ellipse cx="6.30" cy="0" rx="4.10" ry="1.95" transform="rotate(-20.6)"/><ellipse cx="6.30" cy="0" rx="4.10" ry="1.95" transform="rotate(30.9)"/><ellipse cx="6.30" cy="0" rx="4.10" ry="1.95" transform="rotate(82.3)"/><ellipse cx="6.30" cy="0" rx="4.10" ry="1.95" transform="rotate(133.7)"/><ellipse cx="6.30" cy="0" rx="4.10" ry="1.95" transform="rotate(185.1)"/><ellipse cx="6.30" cy="0" rx="4.10" ry="1.95" transform="rotate(236.6)"/></g><circle r="3.2" fill="#000"/><circle r="2.2" fill="#999"/><circle r="0.9" fill="#333"/></g>
<g transform="translate(994.5 159.8) rotate(0) scale(0.95)"><g fill="#000" stroke="#000" stroke-width="0.6"><ellipse cx="6.30" cy="0" rx="4.10" ry="1.95" transform="rotate(-72.0)"/><ellipse cx="6.30" cy="0" rx="4.10" ry="1.95" transform="rotate(-20.6)"/><ellipse cx="6.30" cy="0" rx="4.10" ry="1.95" transform="rotate(30.9)"/><ellipse cx="6.30" cy="0" rx="4.10" ry="1.95" transform="rotate(82.3)"/><ellipse cx="6.30" cy="0" rx="4.10" ry="1.95" transform="rotate(133.7)"/><ellipse cx="6.30" cy="0" rx="4.10" ry="1.95" transform="rotate(185.1)"/><ellipse cx="6.30" cy="0" rx="4.10" ry="1.95" transform="rotate(236.6)"/></g><circle r="3.2" fill="#000"/><circle r="2.2" fill="#999"/><circle r="0.9" fill="#333"/></g>
<g transform="translate(512.1 353.6) rotate(0) scale(0.95)"><g fill="#000" stroke="#000" stroke-width="0.6"><ellipse cx="6.30" cy="0" rx="4.10" ry="1.95" transform="rotate(-72.0)"/><ellipse cx="6.30" cy="0" rx="4.10" ry="1.95" transform="rotate(-20.6)"/><ellipse cx="6.30" cy="0" rx="4.10" ry="1.95" transform="rotate(30.9)"/><ellipse cx="6.30" cy="0" rx="4.10" ry="1.95" transform="rotate(82.3)"/><ellipse cx="6.30" cy="0" rx="4.10" ry="1.95" transform="rotate(133.7)"/><ellipse cx="6.30" cy="0" rx="4.10" ry="1.95" transform="rotate(185.1)"/><ellipse cx="6.30" cy="0" rx="4.10" ry="1.95" transform="rotate(236.6)"/></g><circle r="3.2" fill="#000"/><circle r="2.2" fill="#999"/><circle r="0.9" fill="#333"/></g>
<g transform="translate(136.6 1101.3) rotate(0) scale(1)"><g fill="#000" stroke="#000" stroke-width="0.6"><ellipse cx="6.30" cy="0" rx="4.10" ry="1.95" transform="rotate(-72.0)"/><ellipse cx="6.30" cy="0" rx="4.10" ry="1.95" transform="rotate(-20.6)"/><ellipse cx="6.30" cy="0" rx="4.10" ry="1.95" transform="rotate(30.9)"/><ellipse cx="6.30" cy="0" rx="4.10" ry="1.95" transform="rotate(82.3)"/><ellipse cx="6.30" cy="0" rx="4.10" ry="1.95" transform="rotate(133.7)"/><ellipse cx="6.30" cy="0" rx="4.10" ry="1.95" transform="rotate(185.1)"/><ellipse cx="6.30" cy="0" rx="4.10" ry="1.95" transform="rotate(236.6)"/></g><circle r="3.2" fill="#000"/><circle r="2.2" fill="#999"/><circle r="0.9" fill="#333"/></g>
<g transform="translate(160 1101.3) rotate(0) scale(1)"><g fill="#000" stroke="#000" stroke-width="0.6"><ellipse cx="6.30" cy="0" rx="4.10" ry="1.95" transform="rotate(-72.0)"/><ellipse cx="6.30" cy="0" rx="4.10" ry="1.95" transform="rotate(-20.6)"/><ellipse cx="6.30" cy="0" rx="4.10" ry="1.95" transform="rotate(30.9)"/><ellipse cx="6.30" cy="0" rx="4.10" ry="1.95" transform="rotate(82.3)"/><ellipse cx="6.30" cy="0" rx="4.10" ry="1.95" transform="rotate(133.7)"/><ellipse cx="6.30" cy="0" rx="4.10" ry="1.95" transform="rotate(185.1)"/><ellipse cx="6.30" cy="0" rx="4.10" ry="1.95" transform="rotate(236.6)"/></g><circle r="3.2" fill="#000"/><circle r="2.2" fill="#999"/><circle r="0.9" fill="#333"/></g>
<g transform="translate(183.8 1101.3) rotate(0) scale(1)"><g fill="#000" stroke="#000" stroke-width="0.6"><ellipse cx="6.30" cy="0" rx="4.10" ry="1.95" transform="rotate(-72.0)"/><ellipse cx="6.30" cy="0" rx="4.10" ry="1.95" transform="rotate(-20.6)"/><ellipse cx="6.30" cy="0" rx="4.10" ry="1.95" transform="rotate(30.9)"/><ellipse cx="6.30" cy="0" rx="4.10" ry="1.95" transform="rotate(82.3)"/><ellipse cx="6.30" cy="0" rx="4.10" ry="1.95" transform="rotate(133.7)"/><ellipse cx="6.30" cy="0" rx="4.10" ry="1.95" transform="rotate(185.1)"/><ellipse cx="6.30" cy="0" rx="4.10" ry="1.95" transform="rotate(236.6)"/></g><circle r="3.2" fill="#000"/><circle r="2.2" fill="#999"/><circle r="0.9" fill="#333"/></g>
<g transform="translate(136.6 1180.4) rotate(0) scale(1)"><g fill="#000" stroke="#000" stroke-width="0.6"><ellipse cx="6.30" cy="0" rx="4.10" ry="1.95" transform="rotate(-72.0)"/><ellipse cx="6.30" cy="0" rx="4.10" ry="1.95" transform="rotate(-20.6)"/><ellipse cx="6.30" cy="0" rx="4.10" ry="1.95" transform="rotate(30.9)"/><ellipse cx="6.30" cy="0" rx="4.10" ry="1.95" transform="rotate(82.3)"/><ellipse cx="6.30" cy="0" rx="4.10" ry="1.95" transform="rotate(133.7)"/><ellipse cx="6.30" cy="0" rx="4.10" ry="1.95" transform="rotate(185.1)"/><ellipse cx="6.30" cy="0" rx="4.10" ry="1.95" transform="rotate(236.6)"/></g><circle r="3.2" fill="#000"/><circle r="2.2" fill="#999"/><circle r="0.9" fill="#333"/></g>
<g transform="translate(160 1180.4) rotate(0) scale(1)"><g fill="#000" stroke="#000" stroke-width="0.6"><ellipse cx="6.30" cy="0" rx="4.10" ry="1.95" transform="rotate(-72.0)"/><ellipse cx="6.30" cy="0" rx="4.10" ry="1.95" transform="rotate(-20.6)"/><ellipse cx="6.30" cy="0" rx="4.10" ry="1.95" transform="rotate(30.9)"/><ellipse cx="6.30" cy="0" rx="4.10" ry="1.95" transform="rotate(82.3)"/><ellipse cx="6.30" cy="0" rx="4.10" ry="1.95" transform="rotate(133.7)"/><ellipse cx="6.30" cy="0" rx="4.10" ry="1.95" transform="rotate(185.1)"/><ellipse cx="6.30" cy="0" rx="4.10" ry="1.95" transform="rotate(236.6)"/></g><circle r="3.2" fill="#000"/><circle r="2.2" fill="#999"/><circle r="0.9" fill="#333"/></g>
<g transform="translate(183.8 1180.4) rotate(0) scale(1)"><g fill="#000" stroke="#000" stroke-width="0.6"><ellipse cx="6.30" cy="0" rx="4.10" ry="1.95" transform="rotate(-72.0)"/><ellipse cx="6.30" cy="0" rx="4.10" ry="1.95" transform="rotate(-20.6)"/><ellipse cx="6.30" cy="0" rx="4.10" ry="1.95" transform="rotate(30.9)"/><ellipse cx="6.30" cy="0" rx="4.10" ry="1.95" transform="rotate(82.3)"/><ellipse cx="6.30" cy="0" rx="4.10" ry="1.95" transform="rotate(133.7)"/><ellipse cx="6.30" cy="0" rx="4.10" ry="1.95" transform="rotate(185.1)"/><ellipse cx="6.30" cy="0" rx="4.10" ry="1.95" transform="rotate(236.6)"/></g><circle r="3.2" fill="#000"/><circle r="2.2" fill="#999"/><circle r="0.9" fill="#333"/></g>
<g transform="translate(576.1 1152.2) rotate(0) scale(1)"><g fill="#000" stroke="#000" stroke-width="0.6"><ellipse cx="6.30" cy="0" rx="4.10" ry="1.95" transform="rotate(-72.0)"/><ellipse cx="6.30" cy="0" rx="4.10" ry="1.95" transform="rotate(-20.6)"/><ellipse cx="6.30" cy="0" rx="4.10" ry="1.95" transform="rotate(30.9)"/><ellipse cx="6.30" cy="0" rx="4.10" ry="1.95" transform="rotate(82.3)"/><ellipse cx="6.30" cy="0" rx="4.10" ry="1.95" transform="rotate(133.7)"/><ellipse cx="6.30" cy="0" rx="4.10" ry="1.95" transform="rotate(185.1)"/><ellipse cx="6.30" cy="0" rx="4.10" ry="1.95" transform="rotate(236.6)"/></g><circle r="3.2" fill="#000"/><circle r="2.2" fill="#999"/><circle r="0.9" fill="#333"/></g>
<g transform="translate(619.8 1152.2) rotate(0) scale(1)"><g fill="#000" stroke="#000" stroke-width="0.6"><ellipse cx="6.30" cy="0" rx="4.10" ry="1.95" transform="rotate(-72.0)"/><ellipse cx="6.30" cy="0" rx="4.10" ry="1.95" transform="rotate(-20.6)"/><ellipse cx="6.30" cy="0" rx="4.10" ry="1.95" transform="rotate(30.9)"/><ellipse cx="6.30" cy="0" rx="4.10" ry="1.95" transform="rotate(82.3)"/><ellipse cx="6.30" cy="0" rx="4.10" ry="1.95" transform="rotate(133.7)"/><ellipse cx="6.30" cy="0" rx="4.10" ry="1.95" transform="rotate(185.1)"/><ellipse cx="6.30" cy="0" rx="4.10" ry="1.95" transform="rotate(236.6)"/></g><circle r="3.2" fill="#000"/><circle r="2.2" fill="#999"/><circle r="0.9" fill="#333"/></g>
<g transform="translate(663.1 1152.2) rotate(0) scale(1)"><g fill="#000" stroke="#000" stroke-width="0.6"><ellipse cx="6.30" cy="0" rx="4.10" ry="1.95" transform="rotate(-72.0)"/><ellipse cx="6.30" cy="0" rx="4.10" ry="1.95" transform="rotate(-20.6)"/><ellipse cx="6.30" cy="0" rx="4.10" ry="1.95" transform="rotate(30.9)"/><ellipse cx="6.30" cy="0" rx="4.10" ry="1.95" transform="rotate(82.3)"/><ellipse cx="6.30" cy="0" rx="4.10" ry="1.95" transform="rotate(133.7)"/><ellipse cx="6.30" cy="0" rx="4.10" ry="1.95" transform="rotate(185.1)"/><ellipse cx="6.30" cy="0" rx="4.10" ry="1.95" transform="rotate(236.6)"/></g><circle r="3.2" fill="#000"/><circle r="2.2" fill="#999"/><circle r="0.9" fill="#333"/></g>
<g transform="translate(706.7 1152.2) rotate(0) scale(1)"><g fill="#000" stroke="#000" stroke-width="0.6"><ellipse cx="6.30" cy="0" rx="4.10" ry="1.95" transform="rotate(-72.0)"/><ellipse cx="6.30" cy="0" rx="4.10" ry="1.95" transform="rotate(-20.6)"/><ellipse cx="6.30" cy="0" rx="4.10" ry="1.95" transform="rotate(30.9)"/><ellipse cx="6.30" cy="0" rx="4.10" ry="1.95" transform="rotate(82.3)"/><ellipse cx="6.30" cy="0" rx="4.10" ry="1.95" transform="rotate(133.7)"/><ellipse cx="6.30" cy="0" rx="4.10" ry="1.95" transform="rotate(185.1)"/><ellipse cx="6.30" cy="0" rx="4.10" ry="1.95" transform="rotate(236.6)"/></g><circle r="3.2" fill="#000"/><circle r="2.2" fill="#999"/><circle r="0.9" fill="#333"/></g>
<g transform="translate(215.5 1109.2) rotate(0) scale(1)"><g fill="#3c3c3c" stroke="#000" stroke-width="1.3" stroke-linejoin="round"><path d="M1,0 Q8.65,6.2 16.3,0 Q8.65,-6.2 1,0 Z" transform="rotate(-82.0)"/><path d="M1,0 Q8.65,6.2 16.3,0 Q8.65,-6.2 1,0 Z" transform="rotate(-30.6)"/><path d="M1,0 Q8.65,6.2 16.3,0 Q8.65,-6.2 1,0 Z" transform="rotate(20.9)"/><path d="M1,0 Q8.65,6.2 16.3,0 Q8.65,-6.2 1,0 Z" transform="rotate(72.3)"/><path d="M1,0 Q8.65,6.2 16.3,0 Q8.65,-6.2 1,0 Z" transform="rotate(123.7)"/><path d="M1,0 Q8.65,6.2 16.3,0 Q8.65,-6.2 1,0 Z" transform="rotate(175.1)"/><path d="M1,0 Q8.65,6.2 16.3,0 Q8.65,-6.2 1,0 Z" transform="rotate(226.6)"/></g><circle r="4" fill="#aaa"/><circle r="1.3" fill="#222"/></g>
<g transform="translate(271.7 1109.2) rotate(0) scale(1)"><g fill="#3c3c3c" stroke="#000" stroke-width="1.3" stroke-linejoin="round"><path d="M1,0 Q8.65,6.2 16.3,0 Q8.65,-6.2 1,0 Z" transform="rotate(-82.0)"/><path d="M1,0 Q8.65,6.2 16.3,0 Q8.65,-6.2 1,0 Z" transform="rotate(-30.6)"/><path d="M1,0 Q8.65,6.2 16.3,0 Q8.65,-6.2 1,0 Z" transform="rotate(20.9)"/><path d="M1,0 Q8.65,6.2 16.3,0 Q8.65,-6.2 1,0 Z" transform="rotate(72.3)"/><path d="M1,0 Q8.65,6.2 16.3,0 Q8.65,-6.2 1,0 Z" transform="rotate(123.7)"/><path d="M1,0 Q8.65,6.2 16.3,0 Q8.65,-6.2 1,0 Z" transform="rotate(175.1)"/><path d="M1,0 Q8.65,6.2 16.3,0 Q8.65,-6.2 1,0 Z" transform="rotate(226.6)"/></g><circle r="4" fill="#aaa"/><circle r="1.3" fill="#222"/></g>
<g transform="translate(327.9 1109.2) rotate(0) scale(1)"><g fill="#3c3c3c" stroke="#000" stroke-width="1.3" stroke-linejoin="round"><path d="M1,0 Q8.65,6.2 16.3,0 Q8.65,-6.2 1,0 Z" transform="rotate(-82.0)"/><path d="M1,0 Q8.65,6.2 16.3,0 Q8.65,-6.2 1,0 Z" transform="rotate(-30.6)"/><path d="M1,0 Q8.65,6.2 16.3,0 Q8.65,-6.2 1,0 Z" transform="rotate(20.9)"/><path d="M1,0 Q8.65,6.2 16.3,0 Q8.65,-6.2 1,0 Z" transform="rotate(72.3)"/><path d="M1,0 Q8.65,6.2 16.3,0 Q8.65,-6.2 1,0 Z" transform="rotate(123.7)"/><path d="M1,0 Q8.65,6.2 16.3,0 Q8.65,-6.2 1,0 Z" transform="rotate(175.1)"/><path d="M1,0 Q8.65,6.2 16.3,0 Q8.65,-6.2 1,0 Z" transform="rotate(226.6)"/></g><circle r="4" fill="#aaa"/><circle r="1.3" fill="#222"/></g>
<g transform="translate(383.6 1109.2) rotate(0) scale(1)"><g fill="#3c3c3c" stroke="#000" stroke-width="1.3" stroke-linejoin="round"><path d="M1,0 Q8.65,6.2 16.3,0 Q8.65,-6.2 1,0 Z" transform="rotate(-82.0)"/><path d="M1,0 Q8.65,6.2 16.3,0 Q8.65,-6.2 1,0 Z" transform="rotate(-30.6)"/><path d="M1,0 Q8.65,6.2 16.3,0 Q8.65,-6.2 1,0 Z" transform="rotate(20.9)"/><path d="M1,0 Q8.65,6.2 16.3,0 Q8.65,-6.2 1,0 Z" transform="rotate(72.3)"/><path d="M1,0 Q8.65,6.2 16.3,0 Q8.65,-6.2 1,0 Z" transform="rotate(123.7)"/><path d="M1,0 Q8.65,6.2 16.3,0 Q8.65,-6.2 1,0 Z" transform="rotate(175.1)"/><path d="M1,0 Q8.65,6.2 16.3,0 Q8.65,-6.2 1,0 Z" transform="rotate(226.6)"/></g><circle r="4" fill="#aaa"/><circle r="1.3" fill="#222"/></g>
<g transform="translate(506.2 1116.6) rotate(0) scale(1)"><g fill="#3c3c3c" stroke="#000" stroke-width="1.3" stroke-linejoin="round"><path d="M1,0 Q8.65,6.2 16.3,0 Q8.65,-6.2 1,0 Z" transform="rotate(-82.0)"/><path d="M1,0 Q8.65,6.2 16.3,0 Q8.65,-6.2 1,0 Z" transform="rotate(-30.6)"/><path d="M1,0 Q8.65,6.2 16.3,0 Q8.65,-6.2 1,0 Z" transform="rotate(20.9)"/><path d="M1,0 Q8.65,6.2 16.3,0 Q8.65,-6.2 1,0 Z" transform="rotate(72.3)"/><path d="M1,0 Q8.65,6.2 16.3,0 Q8.65,-6.2 1,0 Z" transform="rotate(123.7)"/><path d="M1,0 Q8.65,6.2 16.3,0 Q8.65,-6.2 1,0 Z" transform="rotate(175.1)"/><path d="M1,0 Q8.65,6.2 16.3,0 Q8.65,-6.2 1,0 Z" transform="rotate(226.6)"/></g><circle r="4" fill="#aaa"/><circle r="1.3" fill="#222"/></g>
<g transform="translate(538.7 1144.2) rotate(0) scale(1)"><g fill="#3c3c3c" stroke="#000" stroke-width="1.3" stroke-linejoin="round"><path d="M1,0 Q8.65,6.2 16.3,0 Q8.65,-6.2 1,0 Z" transform="rotate(-82.0)"/><path d="M1,0 Q8.65,6.2 16.3,0 Q8.65,-6.2 1,0 Z" transform="rotate(-30.6)"/><path d="M1,0 Q8.65,6.2 16.3,0 Q8.65,-6.2 1,0 Z" transform="rotate(20.9)"/><path d="M1,0 Q8.65,6.2 16.3,0 Q8.65,-6.2 1,0 Z" transform="rotate(72.3)"/><path d="M1,0 Q8.65,6.2 16.3,0 Q8.65,-6.2 1,0 Z" transform="rotate(123.7)"/><path d="M1,0 Q8.65,6.2 16.3,0 Q8.65,-6.2 1,0 Z" transform="rotate(175.1)"/><path d="M1,0 Q8.65,6.2 16.3,0 Q8.65,-6.2 1,0 Z" transform="rotate(226.6)"/></g><circle r="4" fill="#aaa"/><circle r="1.3" fill="#222"/></g>
<g transform="translate(742.3 1142) rotate(0) scale(1)"><g fill="#3c3c3c" stroke="#000" stroke-width="1.3" stroke-linejoin="round"><path d="M1,0 Q8.65,6.2 16.3,0 Q8.65,-6.2 1,0 Z" transform="rotate(-82.0)"/><path d="M1,0 Q8.65,6.2 16.3,0 Q8.65,-6.2 1,0 Z" transform="rotate(-30.6)"/><path d="M1,0 Q8.65,6.2 16.3,0 Q8.65,-6.2 1,0 Z" transform="rotate(20.9)"/><path d="M1,0 Q8.65,6.2 16.3,0 Q8.65,-6.2 1,0 Z" transform="rotate(72.3)"/><path d="M1,0 Q8.65,6.2 16.3,0 Q8.65,-6.2 1,0 Z" transform="rotate(123.7)"/><path d="M1,0 Q8.65,6.2 16.3,0 Q8.65,-6.2 1,0 Z" transform="rotate(175.1)"/><path d="M1,0 Q8.65,6.2 16.3,0 Q8.65,-6.2 1,0 Z" transform="rotate(226.6)"/></g><circle r="4" fill="#aaa"/><circle r="1.3" fill="#222"/></g>
<g transform="translate(779.5 1108) rotate(0) scale(1)"><g fill="#3c3c3c" stroke="#000" stroke-width="1.3" stroke-linejoin="round"><path d="M1,0 Q8.65,6.2 16.3,0 Q8.65,-6.2 1,0 Z" transform="rotate(-82.0)"/><path d="M1,0 Q8.65,6.2 16.3,0 Q8.65,-6.2 1,0 Z" transform="rotate(-30.6)"/><path d="M1,0 Q8.65,6.2 16.3,0 Q8.65,-6.2 1,0 Z" transform="rotate(20.9)"/><path d="M1,0 Q8.65,6.2 16.3,0 Q8.65,-6.2 1,0 Z" transform="rotate(72.3)"/><path d="M1,0 Q8.65,6.2 16.3,0 Q8.65,-6.2 1,0 Z" transform="rotate(123.7)"/><path d="M1,0 Q8.65,6.2 16.3,0 Q8.65,-6.2 1,0 Z" transform="rotate(175.1)"/><path d="M1,0 Q8.65,6.2 16.3,0 Q8.65,-6.2 1,0 Z" transform="rotate(226.6)"/></g><circle r="4" fill="#aaa"/><circle r="1.3" fill="#222"/></g>
<g transform="translate(779.5 1144.2) rotate(0) scale(1)"><g fill="#3c3c3c" stroke="#000" stroke-width="1.3" stroke-linejoin="round"><path d="M1,0 Q8.65,6.2 16.3,0 Q8.65,-6.2 1,0 Z" transform="rotate(-82.0)"/><path d="M1,0 Q8.65,6.2 16.3,0 Q8.65,-6.2 1,0 Z" transform="rotate(-30.6)"/><path d="M1,0 Q8.65,6.2 16.3,0 Q8.65,-6.2 1,0 Z" transform="rotate(20.9)"/><path d="M1,0 Q8.65,6.2 16.3,0 Q8.65,-6.2 1,0 Z" transform="rotate(72.3)"/><path d="M1,0 Q8.65,6.2 16.3,0 Q8.65,-6.2 1,0 Z" transform="rotate(123.7)"/><path d="M1,0 Q8.65,6.2 16.3,0 Q8.65,-6.2 1,0 Z" transform="rotate(175.1)"/><path d="M1,0 Q8.65,6.2 16.3,0 Q8.65,-6.2 1,0 Z" transform="rotate(226.6)"/></g><circle r="4" fill="#aaa"/><circle r="1.3" fill="#222"/></g>
<g transform="translate(160.4 1140.5) rotate(0) scale(0.6173913043478261)"><path d="M46.0,0.0 L45.8,3.8 L45.4,7.7 L44.6,11.4 L43.4,15.1 L37.8,13.2 L42.8,16.9 L43.3,19.3 L41.5,22.8 L39.5,26.2 L37.1,29.4 L34.5,32.4 L29.1,27.4 L32.2,32.9 L30.5,33.9 L27.6,36.4 L24.5,38.5 L21.1,40.5 L17.7,42.1 L15.4,36.9 L16.0,43.1 L13.8,42.5 L10.2,43.5 L6.5,44.2 L2.8,44.6 L-0.9,44.7 L-0.9,40.0 L-2.9,45.9 L-4.9,46.4 L-8.7,45.9 L-12.6,45.0 L-16.3,43.8 L-19.9,42.2 L-17.1,36.2 L-21.3,40.8 L-23.6,40.8 L-26.9,38.7 L-30.0,36.3 L-33.0,33.7 L-35.7,30.8 L-30.3,26.1 L-36.0,28.6 L-36.4,26.5 L-38.5,23.3 L-40.3,20.0 L-41.9,16.6 L-43.1,13.0 L-38.3,11.5 L-44.6,11.4 L-44.2,9.4 L-44.8,5.7 L-45.1,1.9 L-45.1,-1.9 L-44.8,-5.7 L-39.7,-5.1 L-45.4,-7.7 L-46.2,-9.8 L-45.2,-13.6 L-43.9,-17.4 L-42.3,-21.0 L-40.4,-24.4 L-34.2,-20.8 L-38.3,-25.5 L-37.7,-27.4 L-35.2,-30.4 L-32.6,-33.3 L-29.7,-35.9 L-26.6,-38.2 L-22.8,-32.9 L-24.6,-38.8 L-22.3,-38.7 L-19.0,-40.4 L-15.6,-41.9 L-12.0,-43.0 L-8.4,-43.9 L-7.4,-39.3 L-6.7,-45.5 L-4.8,-45.5 L-1.0,-45.8 L2.9,-45.7 L6.7,-45.3 L10.5,-44.6 L9.2,-38.9 L12.4,-44.3 L14.6,-45.1 L18.4,-43.7 L22.0,-42.0 L25.4,-40.0 L28.6,-37.7 L24.2,-31.8 L29.3,-35.4 L30.7,-34.1 L33.4,-31.4 L35.9,-28.5 L38.2,-25.4 L40.2,-22.1 L35.1,-19.2 L41.2,-20.5 L40.8,-18.2 L42.2,-14.7 L43.3,-11.1 L44.0,-7.4 L44.5,-3.7 L39.9,-3.3 L46.0,-1.9 Z" fill="#fff" stroke="#444" stroke-width="1.3" stroke-linejoin="round" vector-effect="non-scaling-stroke"/><circle r="3.1" fill="none" stroke="#444" stroke-width="1.2" vector-effect="non-scaling-stroke"/></g>
<g transform="translate(273.5 1283.6) rotate(0) scale(1)"><path d="M46.0,0.0 L45.8,3.8 L45.4,7.7 L44.6,11.4 L43.4,15.1 L37.8,13.2 L42.8,16.9 L43.3,19.3 L41.5,22.8 L39.5,26.2 L37.1,29.4 L34.5,32.4 L29.1,27.4 L32.2,32.9 L30.5,33.9 L27.6,36.4 L24.5,38.5 L21.1,40.5 L17.7,42.1 L15.4,36.9 L16.0,43.1 L13.8,42.5 L10.2,43.5 L6.5,44.2 L2.8,44.6 L-0.9,44.7 L-0.9,40.0 L-2.9,45.9 L-4.9,46.4 L-8.7,45.9 L-12.6,45.0 L-16.3,43.8 L-19.9,42.2 L-17.1,36.2 L-21.3,40.8 L-23.6,40.8 L-26.9,38.7 L-30.0,36.3 L-33.0,33.7 L-35.7,30.8 L-30.3,26.1 L-36.0,28.6 L-36.4,26.5 L-38.5,23.3 L-40.3,20.0 L-41.9,16.6 L-43.1,13.0 L-38.3,11.5 L-44.6,11.4 L-44.2,9.4 L-44.8,5.7 L-45.1,1.9 L-45.1,-1.9 L-44.8,-5.7 L-39.7,-5.1 L-45.4,-7.7 L-46.2,-9.8 L-45.2,-13.6 L-43.9,-17.4 L-42.3,-21.0 L-40.4,-24.4 L-34.2,-20.8 L-38.3,-25.5 L-37.7,-27.4 L-35.2,-30.4 L-32.6,-33.3 L-29.7,-35.9 L-26.6,-38.2 L-22.8,-32.9 L-24.6,-38.8 L-22.3,-38.7 L-19.0,-40.4 L-15.6,-41.9 L-12.0,-43.0 L-8.4,-43.9 L-7.4,-39.3 L-6.7,-45.5 L-4.8,-45.5 L-1.0,-45.8 L2.9,-45.7 L6.7,-45.3 L10.5,-44.6 L9.2,-38.9 L12.4,-44.3 L14.6,-45.1 L18.4,-43.7 L22.0,-42.0 L25.4,-40.0 L28.6,-37.7 L24.2,-31.8 L29.3,-35.4 L30.7,-34.1 L33.4,-31.4 L35.9,-28.5 L38.2,-25.4 L40.2,-22.1 L35.1,-19.2 L41.2,-20.5 L40.8,-18.2 L42.2,-14.7 L43.3,-11.1 L44.0,-7.4 L44.5,-3.7 L39.9,-3.3 L46.0,-1.9 Z" fill="#fff" stroke="#444" stroke-width="1.3" stroke-linejoin="round" vector-effect="non-scaling-stroke"/><circle r="3.1" fill="none" stroke="#444" stroke-width="1.2" vector-effect="non-scaling-stroke"/></g>
<g transform="translate(710.7 1283.7) rotate(0) scale(1)"><path d="M46.0,0.0 L45.8,3.8 L45.4,7.7 L44.6,11.4 L43.4,15.1 L37.8,13.2 L42.8,16.9 L43.3,19.3 L41.5,22.8 L39.5,26.2 L37.1,29.4 L34.5,32.4 L29.1,27.4 L32.2,32.9 L30.5,33.9 L27.6,36.4 L24.5,38.5 L21.1,40.5 L17.7,42.1 L15.4,36.9 L16.0,43.1 L13.8,42.5 L10.2,43.5 L6.5,44.2 L2.8,44.6 L-0.9,44.7 L-0.9,40.0 L-2.9,45.9 L-4.9,46.4 L-8.7,45.9 L-12.6,45.0 L-16.3,43.8 L-19.9,42.2 L-17.1,36.2 L-21.3,40.8 L-23.6,40.8 L-26.9,38.7 L-30.0,36.3 L-33.0,33.7 L-35.7,30.8 L-30.3,26.1 L-36.0,28.6 L-36.4,26.5 L-38.5,23.3 L-40.3,20.0 L-41.9,16.6 L-43.1,13.0 L-38.3,11.5 L-44.6,11.4 L-44.2,9.4 L-44.8,5.7 L-45.1,1.9 L-45.1,-1.9 L-44.8,-5.7 L-39.7,-5.1 L-45.4,-7.7 L-46.2,-9.8 L-45.2,-13.6 L-43.9,-17.4 L-42.3,-21.0 L-40.4,-24.4 L-34.2,-20.8 L-38.3,-25.5 L-37.7,-27.4 L-35.2,-30.4 L-32.6,-33.3 L-29.7,-35.9 L-26.6,-38.2 L-22.8,-32.9 L-24.6,-38.8 L-22.3,-38.7 L-19.0,-40.4 L-15.6,-41.9 L-12.0,-43.0 L-8.4,-43.9 L-7.4,-39.3 L-6.7,-45.5 L-4.8,-45.5 L-1.0,-45.8 L2.9,-45.7 L6.7,-45.3 L10.5,-44.6 L9.2,-38.9 L12.4,-44.3 L14.6,-45.1 L18.4,-43.7 L22.0,-42.0 L25.4,-40.0 L28.6,-37.7 L24.2,-31.8 L29.3,-35.4 L30.7,-34.1 L33.4,-31.4 L35.9,-28.5 L38.2,-25.4 L40.2,-22.1 L35.1,-19.2 L41.2,-20.5 L40.8,-18.2 L42.2,-14.7 L43.3,-11.1 L44.0,-7.4 L44.5,-3.7 L39.9,-3.3 L46.0,-1.9 Z" fill="#fff" stroke="#444" stroke-width="1.3" stroke-linejoin="round" vector-effect="non-scaling-stroke"/><circle r="3.1" fill="none" stroke="#444" stroke-width="1.2" vector-effect="non-scaling-stroke"/></g>
<text x="0" y="0" font-size="22.2" text-anchor="middle" font-weight="normal" fill="#000" stroke="#000" stroke-width="0.25" transform="translate(762.00 236.80) scale(1 1.075)">Deck</text>
<text x="0" y="0" font-size="22.2" text-anchor="middle" font-weight="normal" fill="#000" stroke="#000" stroke-width="0.25" transform="translate(762.00 266.60) scale(1 1.075)">3.0 x 6.5</text>
<text x="0" y="0" font-size="22.2" text-anchor="middle" font-weight="normal" fill="#000" stroke="#000" stroke-width="0.25" transform="translate(244.30 484.10) scale(1 1.075)">Bedroom 2</text>
<text x="0" y="0" font-size="22.2" text-anchor="middle" font-weight="normal" fill="#000" stroke="#000" stroke-width="0.25" transform="translate(246.30 513.70) scale(1 1.075)">3.7 x 2.9</text>
<text x="0" y="0" font-size="22.2" text-anchor="middle" font-weight="normal" fill="#000" stroke="#000" stroke-width="0.25" transform="translate(442.00 486.80) rotate(-90) scale(1 1.075)">Bath</text>
<text x="0" y="0" font-size="22.2" text-anchor="middle" font-weight="normal" fill="#000" stroke="#000" stroke-width="0.25" transform="translate(468.90 487.80) rotate(-90) scale(1 1.075)">2.7 x 1.9</text>
<text x="0" y="0" font-size="22.2" text-anchor="middle" font-weight="normal" fill="#000" stroke="#000" stroke-width="0.25" transform="translate(533.90 449.90) scale(1 1.075)">WC</text>
<text x="0" y="0" font-size="22.2" text-anchor="middle" font-weight="normal" fill="#000" stroke="#000" stroke-width="0.25" transform="translate(712.30 408.40) scale(1 1.075)">DW</text>
<text x="0" y="0" font-size="22.2" text-anchor="middle" font-weight="normal" fill="#000" stroke="#000" stroke-width="0.25" transform="translate(836.70 408.30) scale(1 1.075)">Ref.</text>
<text x="0" y="0" font-size="22.2" text-anchor="middle" font-weight="normal" fill="#000" stroke="#000" stroke-width="0.25" transform="translate(781.30 477.40) scale(1 1.075)">Kitchen</text>
<text x="0" y="0" font-size="22.2" text-anchor="middle" font-weight="normal" fill="#000" stroke="#000" stroke-width="0.25" transform="translate(780.30 506.30) scale(1 1.075)">2.7 x 5.2</text>
<text x="0" y="0" font-size="22.2" text-anchor="middle" font-weight="normal" fill="#000" stroke="#000" stroke-width="0.25" transform="translate(981.60 457.50) rotate(-90) scale(1 1.075)">L'dry</text>
<text x="0" y="0" font-size="22.2" text-anchor="middle" font-weight="normal" fill="#000" stroke="#000" stroke-width="0.25" transform="translate(975.30 511.60) scale(1 1.075)">C</text>
<text x="0" y="0" font-size="22.2" text-anchor="middle" font-weight="normal" fill="#000" stroke="#000" stroke-width="0.25" transform="translate(972.70 559.40) scale(1 1.075)">P</text>
<text x="0" y="0" font-size="22.2" text-anchor="middle" font-weight="normal" fill="#000" stroke="#000" stroke-width="0.25" transform="translate(456.30 609.80) scale(1 1.075)">Hallway</text>
<text x="0" y="0" font-size="22.2" text-anchor="middle" font-weight="normal" fill="#000" stroke="#000" stroke-width="0.25" transform="translate(457.00 636.60) scale(1 1.075)">0.9 x 2.4</text>
<text x="0" y="0" font-size="22.2" text-anchor="middle" font-weight="normal" fill="#000" stroke="#000" stroke-width="0.25" transform="translate(204.30 639.90) scale(1 1.075)">BIR</text>
<text x="0" y="0" font-size="22.2" text-anchor="middle" font-weight="normal" fill="#000" stroke="#000" stroke-width="0.25" transform="translate(268.00 688.10) scale(1 1.075)">BIR</text>
<text x="0" y="0" font-size="22.2" text-anchor="middle" font-weight="normal" fill="#000" stroke="#000" stroke-width="0.25" transform="translate(531.50 687.80) scale(1 1.075)">C</text>
<text x="0" y="0" font-size="22.2" text-anchor="middle" font-weight="normal" fill="#000" stroke="#000" stroke-width="0.25" transform="translate(683.30 690.80) scale(1 1.075)">Dining</text>
<text x="0" y="0" font-size="22.2" text-anchor="middle" font-weight="normal" fill="#000" stroke="#000" stroke-width="0.25" transform="translate(267.10 841.30) scale(1 1.075)">Bedroom 1</text>
<text x="0" y="0" font-size="22.2" text-anchor="middle" font-weight="normal" fill="#000" stroke="#000" stroke-width="0.25" transform="translate(267.10 872.10) scale(1 1.075)">4.0 x 3.5</text>
<text x="0" y="0" font-size="22.2" text-anchor="middle" font-weight="normal" fill="#000" stroke="#000" stroke-width="0.25" transform="translate(440.10 822.80) rotate(-90) scale(1 1.075)">Entry</text>
<text x="0" y="0" font-size="22.2" text-anchor="middle" font-weight="normal" fill="#000" stroke="#000" stroke-width="0.25" transform="translate(467.90 825.80) rotate(-90) scale(1 1.075)">5.2 x 1.2</text>
<text x="0" y="0" font-size="22.2" text-anchor="middle" font-weight="normal" fill="#000" stroke="#000" stroke-width="0.25" transform="translate(648.30 864.30) scale(1 1.075)">Living</text>
<text x="0" y="0" font-size="22.2" text-anchor="middle" font-weight="normal" fill="#000" stroke="#000" stroke-width="0.25" transform="translate(648.30 897.20) scale(1 1.075)">5.0 x 4.0</text>
<text x="0" y="0" font-size="22.2" text-anchor="middle" font-weight="normal" fill="#000" stroke="#000" stroke-width="0.25" transform="translate(906.70 799.80) scale(1 1.075)">Garage</text>
<text x="0" y="0" font-size="22.2" text-anchor="middle" font-weight="normal" fill="#000" stroke="#000" stroke-width="0.25" transform="translate(906.70 831.80) scale(1 1.075)">5.6 x 2.7</text>
<text x="0" y="0" font-size="22.2" text-anchor="middle" font-weight="normal" fill="#000" stroke="#000" stroke-width="0.25" transform="translate(312.10 1039.30) scale(1 1.075)">Porch</text>
<text x="0" y="0" font-size="22.2" text-anchor="middle" font-weight="normal" fill="#000" stroke="#000" stroke-width="0.25" transform="translate(311.10 1068.90) scale(1 1.075)">1.1 x 4.6</text>
<text x="0" y="0" font-size="22.2" text-anchor="middle" font-weight="normal" fill="#000" stroke="#000" stroke-width="0.25" transform="translate(910.30 1234.80) scale(1 1.075)">Driveway</text>
<circle cx="1027.6" cy="1466.1" r="33.8" fill="none" stroke="#222" stroke-width="1.4"/>
<line x1="1027.5" y1="1432.3" x2="1027.5" y2="1466.1" stroke="#444" stroke-width="1"/>
<line x1="993.8" y1="1466.5" x2="1061.4" y2="1466.5" stroke="#444" stroke-width="1"/>
<line x1="1027.6" y1="1466.1" x2="1027.6" y2="1500.5" stroke="#000" stroke-width="3.4"/>
<text x="0" y="0" font-size="25.5" text-anchor="middle" font-weight="normal" fill="#000" stroke="#000" stroke-width="0.25" transform="translate(1028.00 1426.60) scale(1 1.12)">S</text>
<text x="0" y="0" font-size="25.5" text-anchor="middle" font-weight="normal" fill="#000" stroke="#000" stroke-width="0.25" transform="translate(981.90 1474.40) scale(1 1.12)">E</text>
<text x="0" y="0" font-size="25.5" text-anchor="middle" font-weight="normal" fill="#000" stroke="#000" stroke-width="0.25" transform="translate(1076.30 1474.20) scale(1 1.12)">W</text>
<text x="0" y="0" font-size="25.5" text-anchor="middle" font-weight="normal" fill="#000" stroke="#000" stroke-width="0.25" transform="translate(1027.40 1524.00) scale(1 1.12)">N</text>
<text x="932.9" y="1552.6" font-size="18.8" fill="#333" textLength="91" lengthAdjust="spacingAndGlyphs">Produced by</text>
<text x="1031.3" y="1552.6" font-size="18.8" font-weight="bold" fill="#333" textLength="72" lengthAdjust="spacingAndGlyphs">DIAKRIT</text>
</svg></body></html>
